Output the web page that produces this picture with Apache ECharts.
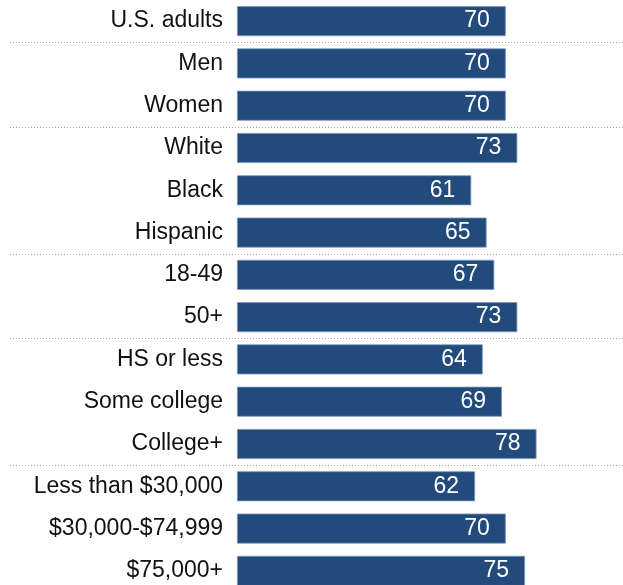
<!DOCTYPE html>
<html>
<head>
<meta charset="utf-8">
<script src="https://cdn.jsdelivr.net/npm/echarts@6/dist/echarts.min.js"></script>
<style>
  html, body { margin: 0; padding: 0; background: #ffffff; }
  #chart { width: 623px; height: 585px; }
</style>
</head>
<body>
<div id="chart"></div>
<script>
// Groups of respondents, top to bottom
const categories = [
  'U.S. adults',
  'Men', 'Women',
  'White', 'Black', 'Hispanic',
  '18-49', '50+',
  'HS or less', 'Some college', 'College+',
  'Less than $30,000', '$30,000-$74,999', '$75,000+'
];

// Share (%) in each group
const values = [70, 70, 70, 73, 61, 65, 67, 73, 64, 69, 78, 62, 70, 75];

// Indices of rows after which a dotted divider separates groups
const dividerAfter = [0, 2, 5, 7, 10];

const chart = echarts.init(document.getElementById('chart'), null, { renderer: 'canvas' });

const FONT = '"Liberation Sans", Arial, sans-serif';

chart.setOption({
  animation: false,
  grid: {
    left: 237, width: 384, top: 0, height: 592,
    containLabel: false,
    outerBoundsMode: 'none'
  },
  xAxis: {
    type: 'value',
    min: 0,
    max: 100,
    show: false
  },
  yAxis: {
    type: 'category',
    data: categories,
    inverse: true,
    axisLine: { show: false },
    axisTick: { show: false },
    splitLine: { show: false },
    axisLabel: {
      margin: 14,
      color: '#111111',
      fontFamily: FONT,
      fontSize: 23
    }
  },
  series: [{
    type: 'bar',
    data: values,
    barCategoryGap: '29%',
    itemStyle: {
      color: '#224a7b',
      borderColor: '#7d97ba',
      borderWidth: 0.8
    },
    label: {
      show: true,
      position: 'insideRight',
      distance: 16,
      color: '#ffffff',
      fontFamily: FONT,
      fontSize: 23
    }
  }]
});

// Dotted dividers between groups, placed halfway between neighbouring rows
const lines = dividerAfter.map(function (i) {
  const y0 = chart.convertToPixel({ yAxisIndex: 0 }, categories[i]);
  const y1 = chart.convertToPixel({ yAxisIndex: 0 }, categories[i + 1]);
  const y = Math.round((y0 + y1) / 2) + 0.5;
  return {
    type: 'line',
    shape: { x1: 10, y1: y, x2: 623, y2: y },
    style: { stroke: '#a6a6a6', lineWidth: 1, lineDash: [1, 2] },
    silent: true
  };
});
chart.setOption({ graphic: lines });
</script>
</body>
</html>
